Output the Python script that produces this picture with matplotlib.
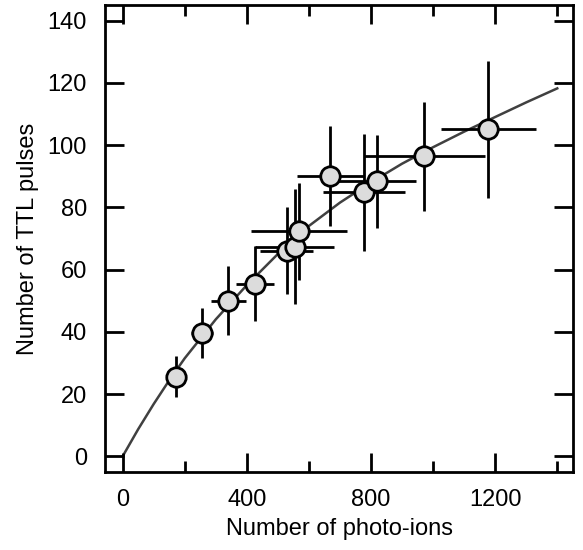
import numpy as np
import matplotlib.pyplot as plt
from matplotlib.ticker import MultipleLocator

plt.rcParams['font.family'] = ['Liberation Sans', 'DejaVu Sans']
plt.rcParams['font.size'] = 17

# measured points: photo-ions vs TTL pulses, with errors
photo_ions = [172, 256, 340, 426, 528, 554, 568, 669, 777, 820, 972, 1178]
ttl_pulses = [25.6, 39.5, 50.0, 55.5, 66.0, 67.3, 72.3, 90.0, 84.8, 88.3, 96.4, 105.0]
ions_err = [20, 35, 56, 62, 85, 128, 156, 108, 133, 126, 196, 153]
ttl_err = [6.5, 8.0, 11.0, 12.0, 14.0, 18.5, 15.5, 16.0, 18.7, 14.9, 17.5, 22.0]

# fitted curve
fit_x = [0, 50, 100, 150, 200, 300, 400, 500, 600, 700, 800, 900, 1000, 1100, 1200, 1300, 1400]
fit_y = [0, 8.7, 16.8, 24.4, 31.5, 44, 55, 65, 74, 81.5, 88, 94, 99.3, 104.3, 109, 113.7, 118.2]

fig = plt.figure(figsize=(5.83, 5.5), dpi=100)
ax = fig.add_axes([0.180, 0.142, 0.803, 0.849])

ax.plot(fit_x, fit_y, color='#404040', linewidth=1.8, zorder=1)
ax.errorbar(photo_ions, ttl_pulses, xerr=ions_err, yerr=ttl_err, fmt='o',
            color='black', ecolor='black', elinewidth=2.0, capsize=0,
            markersize=14, markerfacecolor='#dcdcdc', markeredgecolor='black',
            markeredgewidth=2.0, zorder=2)

ax.set_xlim(-57, 1451)
ax.set_ylim(-5, 145)
ax.xaxis.set_major_locator(MultipleLocator(400))
ax.xaxis.set_minor_locator(MultipleLocator(200))
ax.yaxis.set_major_locator(MultipleLocator(20))

ax.tick_params(which='both', direction='in', top=True, right=True, width=2.0)
ax.tick_params(which='major', length=14, labelsize=17)
ax.tick_params(axis='x', which='major', pad=12)
ax.tick_params(axis='y', which='major', pad=13)
ax.tick_params(which='minor', length=8)
for s in ax.spines.values():
    s.set_linewidth(2.0)

ax.set_xlabel('Number of photo-ions', fontsize=17, labelpad=5)
ax.set_ylabel('Number of TTL pulses', fontsize=17, labelpad=6)

fig.savefig('out.png', dpi=100)
